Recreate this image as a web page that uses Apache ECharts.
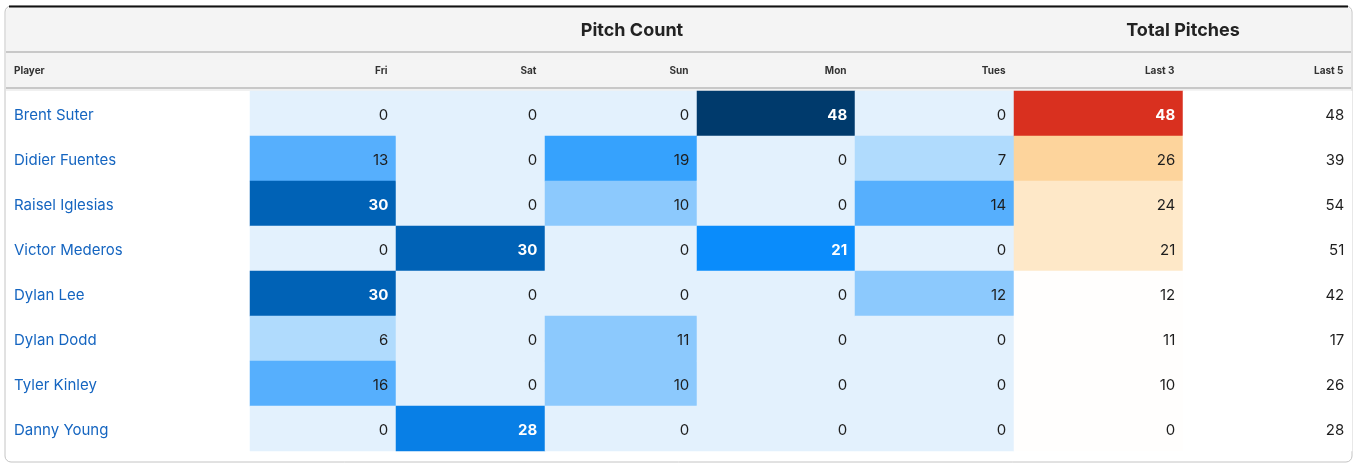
<!DOCTYPE html>
<html>
<head>
<meta charset="utf-8">
<script src="https://cdn.jsdelivr.net/npm/echarts@6/dist/echarts.min.js"></script>
<style>
  html, body { margin: 0; padding: 0; background: #fff; }
  #chart { width: 1357px; height: 466px; }
</style>
</head>
<body>
<div id="chart"></div>
<script>
const players = ['Brent Suter', 'Didier Fuentes', 'Raisel Iglesias', 'Victor Mederos',
  'Dylan Lee', 'Dylan Dodd', 'Tyler Kinley', 'Danny Young']
const columns = ['Fri', 'Sat', 'Sun', 'Mon', 'Tues', 'Last 3', 'Last 5']

const fri = [0, 13, 30, 0, 30, 6, 16, 0]
const sat = [0, 0, 0, 30, 0, 0, 0, 28]
const sun = [0, 19, 10, 0, 0, 11, 10, 0]
const mon = [48, 0, 0, 21, 0, 0, 0, 0]
const tues = [0, 7, 14, 0, 12, 0, 0, 0]
const last3 = [48, 26, 24, 21, 12, 11, 10, 0]
const last5 = [48, 39, 54, 51, 42, 17, 26, 28]

const values = [fri, sat, sun, mon, tues, last3, last5]

// column edges of the table, in px
const edges = [250, 396, 545, 697, 855, 1014, 1183, 1352]
const FONT = 'Inter, "Noto Sans", sans-serif'
const W = 1357
const TOP = 91
const ROW_H = 45

// text turns white on the dark cells
const whiteFrom = [21, 21, 21, 21, 21, 36, 999]

const grids = columns.map((c, i) => ({
  left: edges[i], right: W - edges[i + 1], top: TOP, height: ROW_H * players.length
}))

const xAxes = columns.map((c, i) => ({
  type: 'category', gridIndex: i, data: [c], position: 'top',
  axisLine: {show: false}, axisTick: {show: false}, splitLine: {show: false},
  axisLabel: {
    margin: 15,
    formatter: v => '{h|' + v + '}',
    rich: {h: {width: edges[i + 1] - edges[i] - 17, align: 'right', fontSize: 10,
      fontWeight: 'bold', color: '#333', fontFamily: FONT}}
  }
}))

const yAxes = columns.map((c, i) => ({
  type: 'category', gridIndex: i, data: players, inverse: true,
  axisLine: {show: false}, axisTick: {show: false}, splitLine: {show: false},
  axisLabel: i === 0
    ? {align: 'left', margin: 236,
        formatter: v => '{n|' + v + '}',
        rich: {n: {color: '#1565c0', fontSize: 15, fontFamily: FONT, padding: [4, 0, 0, 0]}}}
    : {show: false}
}))

const series = columns.map((c, i) => ({
  type: 'heatmap', xAxisIndex: i, yAxisIndex: i,
  data: values[i].map((v, y) => ({
    value: [0, y, v],
    label: v >= whiteFrom[i] ? {color: '#fff', fontWeight: 'bold'} : {color: '#1e1e1e'}
  })),
  itemStyle: i === 6 ? {color: '#fff'} : undefined,
  label: {
    show: true, position: 'insideRight', distance: 8, offset: [0, 2],
    fontFamily: FONT, fontSize: 15,
    formatter: p => p.value[2]
  },
  emphasis: {disabled: true}
}))

const chart = echarts.init(document.getElementById('chart'), null, {renderer: 'canvas'})
chart.setOption({
  animation: false,
  backgroundColor: '#fff',
  textStyle: {fontFamily: FONT},
  graphic: [
    {type: 'rect', shape: {x: 5, y: 6, width: 1347, height: 456, r: 6},
      style: {fill: '#fff', stroke: '#c4c4c4', lineWidth: 1}, z: -10},
    {type: 'rect', shape: {x: 6, y: 7, width: 1345, height: 81, r: [5, 5, 0, 0]},
      style: {fill: '#f4f4f4'}, z: -9},
    {type: 'line', shape: {x1: 9, y1: 6.5, x2: 1348, y2: 6.5}, style: {stroke: '#111', lineWidth: 2}, z: -8},
    {type: 'line', shape: {x1: 6, y1: 52, x2: 1351, y2: 52}, style: {stroke: '#c8c8c8', lineWidth: 2}, z: -8},
    {type: 'line', shape: {x1: 6, y1: 88, x2: 1351, y2: 88}, style: {stroke: '#c8c8c8', lineWidth: 2}, z: -8},
    {type: 'rect', shape: {x: 6, y: 89, width: 1345, height: 2}, style: {fill: '#f0f0f0'}, z: -8},
    {type: 'text', left: 14, top: 66,
      style: {text: 'Player', fontSize: 10, fontWeight: 'bold', fill: '#333', fontFamily: FONT}},
    {type: 'text', x: (edges[0] + edges[5]) / 2, y: 31,
      style: {text: 'Pitch Count', fontSize: 18, fontWeight: 'bold', fill: '#222', fontFamily: FONT,
        align: 'center', verticalAlign: 'middle'}},
    {type: 'text', x: (edges[5] + edges[7]) / 2, y: 31,
      style: {text: 'Total Pitches', fontSize: 18, fontWeight: 'bold', fill: '#222', fontFamily: FONT,
        align: 'center', verticalAlign: 'middle'}}
  ],
  grid: grids,
  xAxis: xAxes,
  yAxis: yAxes,
  visualMap: [
    {type: 'piecewise', show: false, seriesIndex: [0, 1, 2, 3, 4], dimension: 2,
      pieces: [
        {min: 0, max: 0, color: '#e3f1fd'},
        {min: 1, max: 8, color: '#b0dbfd'},
        {min: 9, max: 12, color: '#8cc9fd'},
        {min: 13, max: 17, color: '#56affd'},
        {min: 18, max: 20, color: '#36a2fd'},
        {min: 21, max: 25, color: '#0a8cfb'},
        {min: 26, max: 29, color: '#087fe6'},
        {min: 30, max: 40, color: '#0062b6'},
        {min: 41, max: 100, color: '#003a6c'}
      ]},
    {type: 'piecewise', show: false, seriesIndex: 5, dimension: 2,
      pieces: [
        {min: 0, max: 20, color: '#fffefd'},
        {min: 21, max: 25, color: '#fee8c8'},
        {min: 26, max: 35, color: '#fdd49c'},
        {min: 36, max: 100, color: '#d9301f'}
      ]}
  ],
  series
})
</script>
</body>
</html>
